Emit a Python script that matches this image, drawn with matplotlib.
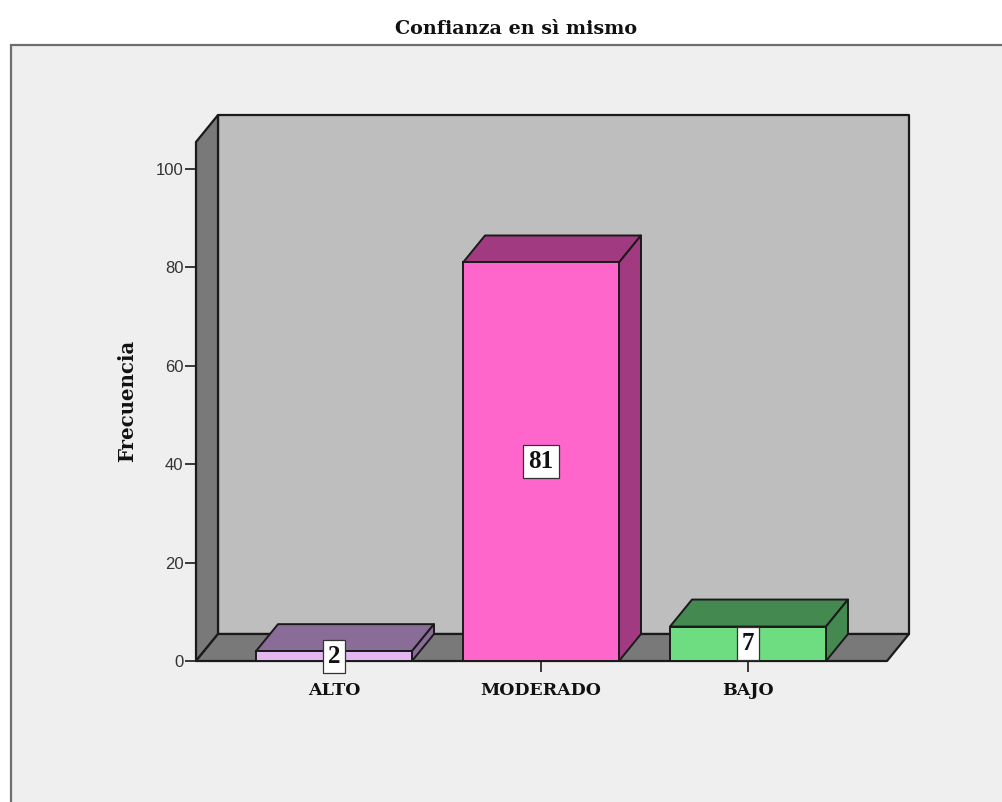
import matplotlib
matplotlib.use("Agg")
import matplotlib.pyplot as plt
from matplotlib.patches import Polygon, Rectangle

categories = ["ALTO", "MODERADO", "BAJO"]
values = [2, 81, 7]
front_colors = ["#E3B6EF", "#FF66CC", "#6EDC80"]
depth_colors = ["#8A6C98", "#A13A80", "#448A50"]
y_ticks = [0, 20, 40, 60, 80, 100]
title = "Confianza en sì mismo"
y_label = "Frecuencia"

W, H = 1003, 802
SERIF = "Liberation Serif"
WIDE = "DejaVu Serif"
SANS = "Liberation Sans"
EDGE = "#1a1a1a"

fig = plt.figure(figsize=(W / 100, H / 100), dpi=100, facecolor="white")

# outer panel
fig.add_artist(Rectangle((10.5 / W, -0.02), 1.1, (H - 45.5) / H + 0.02,
                         transform=fig.transFigure, fc="#EFEFEF", ec="#6E6E6E", lw=1.6,
                         zorder=-5))

# axes: front plane of the 3-D box
left, right, bottom, top = 196, 887, 661, 142
ax = fig.add_axes([left / W, (H - bottom) / H, (right - left) / W, (bottom - top) / H])
ppx = 207.0          # pixels per category step
ppy = 4.92           # pixels per count
ax.set_xlim((left - 334) / ppx, (right - 334) / ppx)
ax.set_ylim(0, (bottom - top) / ppy)
ax.patch.set_visible(False)
for s in ax.spines.values():
    s.set_visible(False)

dx, dy = 22 / ppx, 27 / ppy
x0, x1 = ax.get_xlim()
y0, y1 = ax.get_ylim()
WALL, DARK = "#BEBEBE", "#797979"

def poly(pts, fc, z, lw=1.6, ec=EDGE):
    ax.add_patch(Polygon(pts, closed=True, fc=fc, ec=ec, lw=lw, clip_on=False,
                         zorder=z, joinstyle="round"))

# walls and floor
poly([(x0 + dx, y0 + dy), (x1 + dx, y0 + dy), (x1 + dx, y1 + dy), (x0 + dx, y1 + dy)], WALL, 1)
poly([(x0, y0), (x0 + dx, y0 + dy), (x0 + dx, y1 + dy), (x0, y1)], DARK, 1.1)
poly([(x0, y0), (x1, y0), (x1 + dx, y0 + dy), (x0 + dx, y0 + dy)], DARK, 1.1)

# bars
hw = 78 / ppx
xs = list(range(len(values)))
ax.bar(xs, values, width=2 * hw, color=front_colors, edgecolor=EDGE, linewidth=1.4,
       zorder=3, clip_on=False)
for x, v, dc in zip(xs, values, depth_colors):
    poly([(x - hw, v), (x + hw, v), (x + hw + dx, v + dy), (x - hw + dx, v + dy)], dc, 2.9, lw=1.4)
    poly([(x + hw, 0), (x + hw + dx, dy), (x + hw + dx, v + dy), (x + hw, v)], dc, 2.9, lw=1.4)
    ax.text(x, v / 2, str(v), ha="center", va="center", family=SERIF, weight="bold",
            fontsize=18, color="#111111", zorder=6, clip_on=False,
            bbox=dict(boxstyle="square,pad=0.2", fc="white", ec="#333333", lw=0.9))

# axis ticks
ax.set_xticks(xs)
ax.set_xticklabels(categories, family=WIDE, weight="bold", fontsize=12.5, color="#111111")
ax.set_yticks(y_ticks)
ax.set_yticklabels([str(t) for t in y_ticks], family=SANS, fontsize=12, color="#333333")
ax.tick_params(axis="x", length=8, width=1.2, color=EDGE, pad=7)
ax.tick_params(axis="y", length=8, width=1.2, color=EDGE, pad=1)

fig.text(516 / W, (H - 29) / H, title, ha="center", va="center", family=WIDE,
         weight="bold", fontsize=13.75, color="#111111")
fig.text(127 / W, (H - 401) / H, y_label, ha="center", va="center", rotation=90,
         family=WIDE, weight="bold", fontsize=14.2, color="#111111")

fig.savefig("out.png", dpi=100)
